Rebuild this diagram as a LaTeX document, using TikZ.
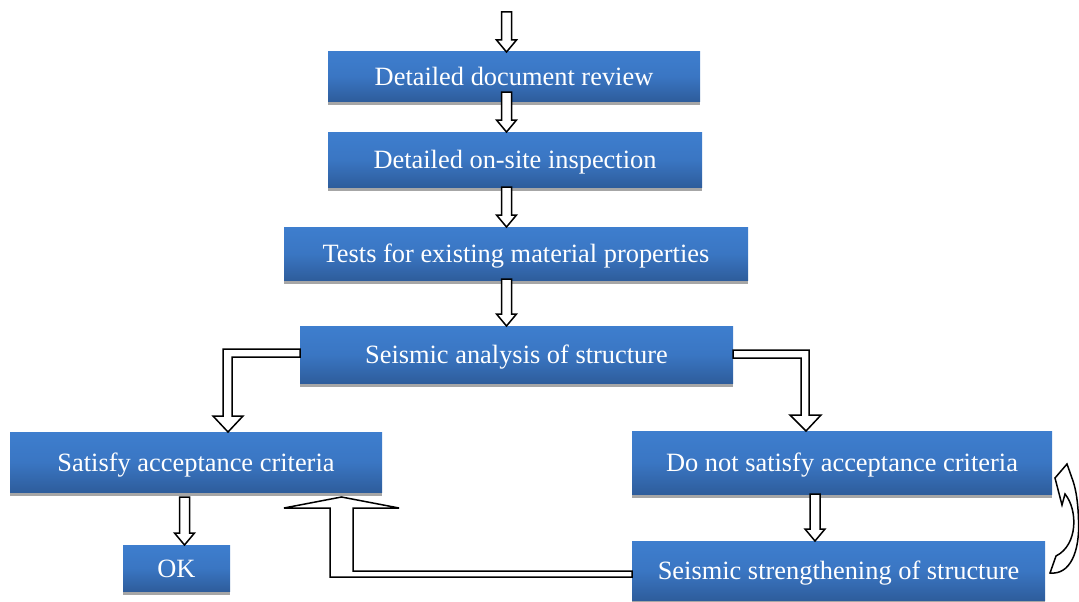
\documentclass[tikz,border=0pt]{standalone}
\usepackage{fontspec}
\setmainfont{Liberation Serif}
\usetikzlibrary{shadows,calc}
\definecolor{boxtop}{HTML}{3E7ECE}
\definecolor{boxmid}{HTML}{3A76C3}
\definecolor{boxbot}{HTML}{2E5D9C}
\definecolor{shadowgray}{HTML}{A6A6A6}
\tikzset{
  box/.style={rectangle, inner sep=0pt, outer sep=0pt,
    top color=boxtop, bottom color=boxbot, middle color=boxmid,
    text=white, font=\fontsize{26.4}{30}\selectfont,
    text height=23pt, text depth=5pt,
    drop shadow={shadow xshift=0pt, shadow yshift=-4pt, fill=shadowgray, opacity=1}},
  barrow/.style={draw=black, fill=white, line width=1.5pt, line join=miter},
}
\newcommand\flowbox[6]{\node[box, minimum width={(#4-#2)*1pt}, minimum height={(#5-#3)*1pt}] (#1) at ({(#2+#4)/2},{(#3+#5)/2}) {#6};}
% block arrow pointing down: #1 x (px), #2 from node, #3 to node, #4 start offset (pt, up positive)
\newcommand\bdown[4]{%
  \draw[barrow] let \p1=(#2.south), \p2=(#3.north) in
    (#1pt-5pt,\y1+#4pt) -- (#1pt-5pt,\y2+12pt) -- (#1pt-10pt,\y2+12pt) -- (#1pt,\y2)
    -- (#1pt+10pt,\y2+12pt) -- (#1pt+5pt,\y2+12pt) -- (#1pt+5pt,\y1+#4pt) -- cycle;}
\begin{document}
\begin{tikzpicture}[x=1pt,y=-1pt]
\useasboundingbox (0,0) rectangle (1079,602);

\flowbox{b1}{328}{52}{700}{101}{Detailed document review}
\flowbox{b2}{328}{132}{702}{187}{Detailed on-site inspection}
\flowbox{b3}{284}{227}{748}{280}{Tests for existing material properties}
\flowbox{b4}{300}{326}{733}{383}{Seismic analysis of structure}
\flowbox{b5}{10}{432}{382}{492}{Satisfy acceptance criteria}
\flowbox{b6}{632}{431}{1052}{494}{Do not satisfy acceptance criteria}
\flowbox{b7}{123}{545}{230}{591}{OK}
\flowbox{b8}{632}{541}{1045}{600}{Seismic strengthening of structure}

\coordinate (start) at (506.5,12);

% top arrow
\draw[barrow] let \p1=(start), \p2=(b1.north) in
  (\x1-5pt,\y1) -- (\x1-5pt,\y2+12pt) -- (\x1-10pt,\y2+12pt) -- (\x1,\y2)
  -- (\x1+10pt,\y2+12pt) -- (\x1+5pt,\y2+12pt) -- (\x1+5pt,\y1) -- cycle;

\bdown{506.5}{b1}{b2}{9}
\bdown{506.5}{b2}{b3}{0}
\bdown{506.5}{b3}{b4}{1}
\bdown{184.5}{b5}{b7}{-5}
\bdown{815}{b6}{b8}{0}

% left elbow arrow
\draw[barrow] let \p1=(b4.north west), \p2=(b5.north) in
  (\x1,\y1-23pt) -- (223pt,\y1-23pt) -- (223pt,\y2+16pt) -- (213pt,\y2+16pt)
  -- (228pt,\y2) -- (243pt,\y2+16pt) -- (232pt,\y2+16pt) -- (232pt,\y1-31pt)
  -- (\x1,\y1-31pt) -- cycle;

% right elbow arrow
\draw[barrow] let \p1=(b4.north east), \p2=(b6.north) in
  (\x1,\y1-24pt) -- (809pt,\y1-24pt) -- (809pt,\y2+16pt) -- (821pt,\y2+16pt)
  -- (806pt,\y2) -- (790pt,\y2+16pt) -- (801pt,\y2+16pt) -- (801pt,\y1-32pt)
  -- (\x1,\y1-32pt) -- cycle;

% up arrow from strengthening to satisfy
\draw[barrow] let \p1=(b8.west), \p2=(b5.south) in
  (\x1,-571pt) -- (353pt,-571pt) -- (353pt,\y2-16pt) -- (399pt,\y2-16pt)
  -- (341.5pt,\y2-5pt) -- (284pt,\y2-16pt) -- (330pt,\y2-16pt) -- (330pt,-577pt)
  -- (\x1,-577pt) -- cycle;

% curved arrow on the right
\draw[barrow] (1067,464) -- (1055,478) -- (1062,505) -- (1065,494)
  .. controls (1078,510) and (1078,545) .. (1056,556)
  -- (1050,573)
  .. controls (1070,575) and (1080,552) .. (1078.5,520)
  .. controls (1078,502) and (1076,490) .. (1073,481)
  -- cycle;
\end{tikzpicture}
\end{document}
